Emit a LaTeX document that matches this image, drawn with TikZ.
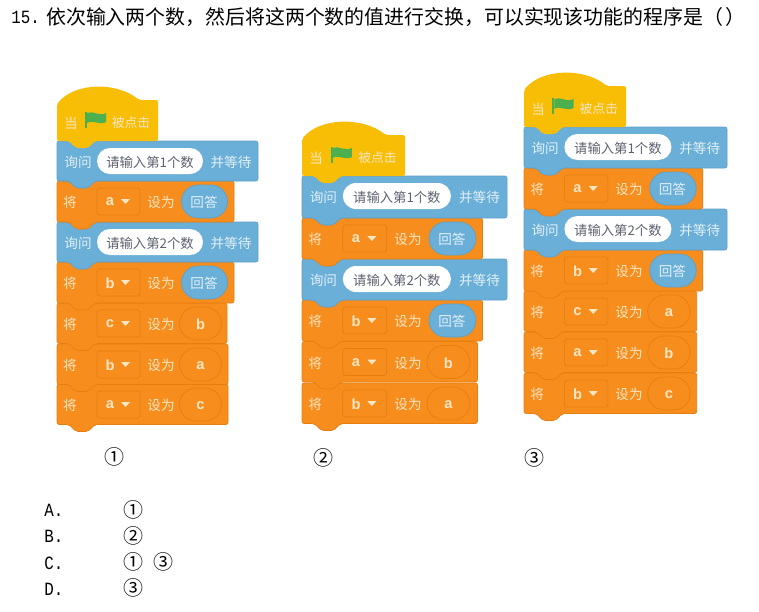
\documentclass[tikz,border=0pt]{standalone}
\usepackage{fontspec}
\setmainfont{Noto Sans CJK SC}
\newfontfamily\latinf[FakeStretch=0.85]{Liberation Mono}
\newfontfamily\varf{Liberation Sans}
\definecolor{orgF}{HTML}{F68D1C}
\definecolor{orgD}{HTML}{E67F12}
\definecolor{bluF}{HTML}{69AFD8}
\definecolor{bluD}{HTML}{5F9FC8}
\definecolor{yelF}{HTML}{F7BE05}
\definecolor{txtO}{HTML}{FCE6C4}
\definecolor{txtB}{HTML}{E4F0F7}
\definecolor{txtP}{HTML}{5E6270}
\definecolor{flagG}{HTML}{4DB04F}
\tikzset{
  blockbody/.style={line width=0.5pt,rounded corners=1.6pt},
  labelO/.style={inner sep=0pt,yshift=-0.75pt,text=txtO,font=\fontsize{10.2pt}{11pt}\selectfont},
  labelB/.style={inner sep=0pt,yshift=-0.75pt,text=txtB,font=\fontsize{10.2pt}{11pt}\selectfont},
  labelP/.style={inner sep=0pt,yshift=-0.75pt,text=txtP,font=\fontsize{10pt}{11pt}\selectfont},
  labelV/.style={inner sep=0pt,yshift=-0.75pt,text=txtO,font=\varf\bfseries\fontsize{11pt}{11pt}\selectfont},
  labelQ/.style={inner sep=0pt,anchor=west,text=black,font=\fontsize{14.93pt}{16pt}\selectfont},
  labelA/.style={inner sep=0pt,anchor=west,text=black,font=\latinf\fontsize{14pt}{14pt}\selectfont},
  labelN/.style={inner sep=0pt,text=black,font=\fontsize{15pt}{16pt}\selectfont},
}
% #1 x, #2 y, #3 w, #4 h, #5 fill, #6 draw
\newcommand{\bodyshape}[6]{%
  \draw[blockbody,fill=#5,draw=#6] (#1,#2) -- ({#1+#3},#2) -- ({#1+#3},{#2+#4}) -- ({#1+38},{#2+#4}) -- ({#1+31},{#2+#4+7}) -- ({#1+19},{#2+#4+7}) -- ({#1+12},{#2+#4}) -- (#1,{#2+#4}) -- cycle;}
% #1 name, #2 x, #3 y (hat top)
\newcommand{\hatblock}[3]{%
  \fill[yelF,rounded corners=1.6pt] (#2,{#3+17}) .. controls ({#2+18},{#3-5}) and ({#2+60},{#3-5}) .. ({#2+82},{#3+13}) -- ({#2+101},{#3+13}) -- ({#2+101},{#3+54}) -- ({#2+38},{#3+54}) -- ({#2+31},{#3+61}) -- ({#2+19},{#3+61}) -- ({#2+12},{#3+54}) -- (#2,{#3+54}) -- cycle;
  \node[labelO] (#1w) at ({#2+14},{#3+35}) {当};
  \fill[flagG] ({#2+28},{#3+25}) -- ({#2+30},{#3+25}) -- ({#2+30},{#3+41}) -- ({#2+28},{#3+41}) -- cycle;
  \fill[flagG] ({#2+30},{#3+26}) .. controls ({#2+36},{#3+23}) and ({#2+42},{#3+30}) .. ({#2+49},{#3+26}) -- ({#2+49},{#3+35}) .. controls ({#2+42},{#3+39}) and ({#2+36},{#3+32}) .. ({#2+30},{#3+36}) -- cycle;
  \node[labelO,font=\fontsize{9.6pt}{10pt}\selectfont] (#1c) at ({#2+74},{#3+35}) {被点击};
}
% #1 name, #2 x, #3 y, #4 prompt, #5 h
\newcommand{\askblock}[5]{%
  \bodyshape{#2}{#3}{201}{#5}{bluF}{bluD}
  \node[labelB] (#1l) at ({#2+21},{#3+20}) {询问};
  \fill[white] ({#2+53},{#3+7}) -- ({#2+133},{#3+7}) arc[start angle=-90,end angle=90,radius=13] -- ({#2+53},{#3+33}) arc[start angle=90,end angle=270,radius=13] -- cycle;
  \node[labelP] (#1p) at ({#2+93},{#3+20}) {#4};
  \node[labelB] (#1r) at ({#2+174},{#3+20}) {并等待};
}
% #1 name, #2 x, #3 y, #4 w, #5 var, #6 h
\newcommand{\setcommon}[6]{%
  \bodyshape{#2}{#3}{#4}{#6}{orgF}{orgD}
  \node[labelO] (#1l) at ({#2+13},{#3+20.5}) {将};
  \draw[fill=orgF,draw=orgD,line width=0.5pt,rounded corners=2pt] ({#2+40},{#3+7}) rectangle ({#2+83},{#3+34});
  \node[labelV] (#1v) at ({#2+53},{#3+20}) {#5};
  \fill[txtO] ({#2+64},{#3+18}) -- ({#2+73},{#3+18}) -- ({#2+68.5},{#3+23}) -- cycle;
  \node[labelO] (#1s) at ({#2+104},{#3+20.5}) {设为};
}
\newcommand{\setans}[5]{%
  \setcommon{#1}{#2}{#3}{177}{#4}{#5}
  \draw[fill=bluF,draw=bluD,line width=0.5pt] ({#2+141},{#3+4}) -- ({#2+154},{#3+4}) arc[start angle=-90,end angle=90,radius=16.5] -- ({#2+141},{#3+37}) arc[start angle=90,end angle=270,radius=16.5] -- cycle;
  \node[labelB] (#1o) at ({#2+147},{#3+20.5}) {回答};
}
% #1 name #2 x #3 y #4 w #5 var #6 value
\newcommand{\setvar}[6]{%
  \setcommon{#1}{#2}{#3}{#4}{#5}{40.5}
  \draw[fill=orgF,draw=orgD,line width=0.5pt] ({#2+139},{#3+4}) -- ({#2+148},{#3+4}) arc[start angle=-90,end angle=90,radius=16.5] -- ({#2+139},{#3+37}) arc[start angle=90,end angle=270,radius=16.5] -- cycle;
  \node[labelV] (#1o) at ({#2+143.5},{#3+20.5}) {#6};
}
\begin{document}
\begin{tikzpicture}[x=0.75pt,y=-0.75pt]
\useasboundingbox (0,0) rectangle (759,611);
\fill[white] (0,0) rectangle (759,611);
\node[labelA] (qnum) at (11,17) {15.};
\node[labelQ] (qtext) at (46,17) {依次输入两个数，然后将这两个数的值进行交换，可以实现该功能的程序是（\kern2pt）};

% stack 1
\setvar{aF}{57}{384}{171}{a}{c}
\setvar{aE}{57}{344}{171}{b}{a}
\setvar{aD}{57}{303}{170}{c}{b}
\setans{aC}{57}{262}{b}{41}
\askblock{aB}{57}{222}{请输入第2个数}{40}
\setans{aA}{57}{181}{a}{41}
\askblock{a0}{57}{141}{请输入第1个数}{40}
\hatblock{aH}{57}{87}

% stack 2
\begin{scope}[shift={(302,0)},xscale=1.02]
\setvar{bF}{0}{383}{172}{b}{a}
\setvar{bE}{0}{341.5}{172}{a}{b}
\setans{bC}{0}{300}{b}{41}
\askblock{bB}{0}{259}{请输入第2个数}{41}
\setans{bA}{0}{218}{a}{41}
\askblock{b0}{0}{176}{请输入第1个数}{42}
\hatblock{bH}{0}{122}
\end{scope}

% stack 3
\begin{scope}[shift={(524,0)},xscale=1.01]
\setvar{cF}{0}{373}{171}{b}{c}
\setvar{cE}{0}{332}{171}{a}{b}
\setvar{cD}{0}{291}{171}{c}{a}
\setans{cC}{0}{250}{b}{41}
\askblock{cB}{0}{209}{请输入第2个数}{41}
\setans{cA}{0}{168}{a}{41}
\askblock{c0}{0}{127}{请输入第1个数}{41}
\hatblock{cH}{0}{73}
\end{scope}

\node[labelN] (n1) at (114,457) {①};
\node[labelN] (n2) at (323,458) {②};
\node[labelN] (n3) at (534,458) {③};

\node[labelA] (oA) at (44,510) {A.};
\node[labelA] (oB) at (44,536) {B.};
\node[labelA] (oC) at (44,563) {C.};
\node[labelA] (oD) at (44,589) {D.};
\node[labelN] (oA1) at (133,510) {①};
\node[labelN] (oB1) at (133,536) {②};
\node[labelN] (oC1) at (133,562) {①};
\node[labelN] (oC2) at (163,562) {③};
\node[labelN] (oD1) at (133,588) {③};
\end{tikzpicture}
\end{document}
